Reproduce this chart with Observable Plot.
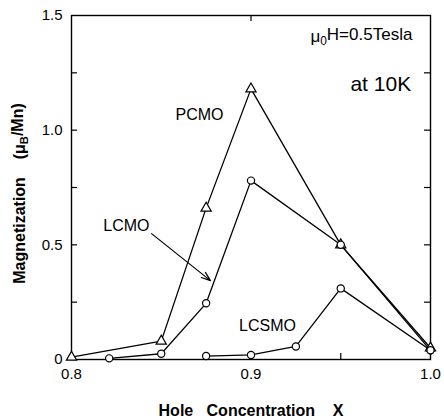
<!DOCTYPE html>
<html><head><meta charset="utf-8">
<script src="https://cdn.jsdelivr.net/npm/d3@7"></script>
<script src="https://cdn.jsdelivr.net/npm/@observablehq/plot@0.6"></script>
<style>
body{margin:0;background:#fff;}
</style></head><body><div id="chart"></div>
<script>
// Series (hole concentration X, magnetization in μB/Mn)
const pcmoX  = [0.8, 0.85, 0.875, 0.9, 0.95, 1.0];
const pcmoY  = [0.01, 0.08, 0.66, 1.18, 0.50, 0.05];
const lcmoX  = [0.821, 0.85, 0.875, 0.9, 0.95, 1.0];
const lcmoY  = [0.005, 0.025, 0.245, 0.78, 0.50, 0.04];
const lcsmoX = [0.875, 0.9, 0.925, 0.95, 1.0];
const lcsmoY = [0.015, 0.02, 0.057, 0.31, 0.04];

// Tick values / labels
const xTickVals = [0.8, 0.9, 1.0];
const xTickLabels = ["0.8", "0.9", "1.0"];
const yTickVals = [0, 0.5, 1.0, 1.5];
const yTickLabels = ["0", "0.5", "1.0", "1.5"];
const yMinor = [0.25, 0.5, 0.75, 1.0, 1.25];
const xInnerBottom = [0.9, 0.95];
const xInnerTop = [0.9];

// Annotations
const seriesLabels = ["PCMO", "LCMO", "LCSMO"];
const seriesLabelX = [0.8713, 0.8306, 0.9092];
const seriesLabelY = [1.068, 0.584, 0.148];
const noteText = ["μ_0H=0.5Tesla"];
const noteX = [0.9331]; const noteY = [1.41];
const note2Text = ["at 10K"];
const note2X = [0.9554]; const note2Y = [1.199];
const arrowFrom = [0.8446, 0.549];
const arrowTo = [0.8774, 0.344];
const xLabel = "Hole\u00a0\u00a0\u00a0Concentration\u00a0\u00a0\u00a0\u00a0X";
const yLabel = "Magnetization\u00a0\u00a0\u00a0\u00a0(μ_B/Mn)";

const toRows = (xs, ys) => xs.map((x, i) => ({x, y: ys[i]}));
const pcmo = toRows(pcmoX, pcmoY);
const lcmo = toRows(lcmoX, lcmoY);
const lcsmo = toRows(lcsmoX, lcsmoY);
const labelRows = seriesLabels.map((t, i) => ({t, x: seriesLabelX[i], y: seriesLabelY[i]}));

const font = "Liberation Sans, Arial, Helvetica, sans-serif";
const W = 444, H = 419, mT = 15, mB = 60, mL = 71, mR = 14;
const innerW = W - mL - mR, innerH = H - mT - mB, tk = 6;

const chart = Plot.plot({
  width: W,
  height: H,
  marginTop: mT,
  marginBottom: mB,
  marginLeft: mL,
  marginRight: mR,
  style: {fontFamily: font, color: "#000", background: "#fff"},
  x: {domain: [0.8, 1.0]},
  y: {domain: [0, 1.5]},
  marks: [
    Plot.frame({stroke: "#000", strokeWidth: 1.4}),
    Plot.axisX({ticks: xTickVals, tickSize: 0, tickPadding: 9, fontSize: 15,
      tickFormat: d => xTickLabels[xTickVals.indexOf(d)], label: xLabel, labelAnchor: "center",
      labelArrow: "none", labelOffset: 56}),
    Plot.axisY({ticks: yTickVals, tickSize: 0, tickPadding: 9, fontSize: 15,
      tickFormat: d => yTickLabels[yTickVals.indexOf(d)], label: yLabel, labelAnchor: "center",
      labelArrow: "none", labelOffset: 58}),
    Plot.tickY(yMinor, {y: d => d, insetRight: innerW - tk, stroke: "#000", strokeWidth: 1.2}),
    Plot.tickY(yMinor, {y: d => d, insetLeft: innerW - tk, stroke: "#000", strokeWidth: 1.2}),
    Plot.tickX(xInnerBottom, {x: d => d, insetTop: innerH - tk, stroke: "#000", strokeWidth: 1.2}),
    Plot.tickX(xInnerTop, {x: d => d, insetBottom: innerH - tk, stroke: "#000", strokeWidth: 1.2}),
    Plot.line(pcmo, {x: "x", y: "y", stroke: "#000", strokeWidth: 1.3}),
    Plot.line(lcmo, {x: "x", y: "y", stroke: "#000", strokeWidth: 1.3}),
    Plot.line(lcsmo, {x: "x", y: "y", stroke: "#000", strokeWidth: 1.3}),
    Plot.dot(pcmo, {x: "x", y: "y", symbol: "triangle", r: 3.8, stroke: "#000", fill: "#fff", strokeWidth: 1.2}),
    Plot.dot(lcmo, {x: "x", y: "y", symbol: "circle", r: 3.6, stroke: "#000", fill: "#fff", strokeWidth: 1.2}),
    Plot.dot(lcsmo, {x: "x", y: "y", symbol: "circle", r: 3.6, stroke: "#000", fill: "#fff", strokeWidth: 1.2}),
    Plot.text(labelRows, {x: "x", y: "y", text: "t", fontSize: 16, fill: "#000"}),
    Plot.text(noteText, {x: noteX, y: noteY, text: d => d, textAnchor: "start", fontSize: 17, fill: "#000"}),
    Plot.text(note2Text, {x: note2X, y: note2Y, text: d => d, textAnchor: "start", fontSize: 21, fill: "#000"}),
    Plot.arrow([0], {x1: () => arrowFrom[0], y1: () => arrowFrom[1], x2: () => arrowTo[0], y2: () => arrowTo[1],
      stroke: "#000", strokeWidth: 1.2, headLength: 12, headAngle: 40})
  ]
});
document.getElementById("chart").appendChild(chart);

// axis title styling + subscripts written as _x
d3.select(chart).selectAll("text").each(function() {
  const el = this;
  if (el.childElementCount !== 0) return;
  let s = el.textContent.replace(/[←↑→↓]/g, "").trim();
  if (s !== el.textContent) el.textContent = s;
  if (s === xLabel || s === yLabel) {
    el.setAttribute("font-weight", "bold");
    el.setAttribute("font-size", "16");
  }
  if (s === yLabel) {
    const t = el.getAttribute("transform") || "";
    el.setAttribute("transform", t + " translate(-6,0)");
  }
  const i = s.indexOf("_");
  if (i >= 0) {
    const before = s.slice(0, i), sub = s[i + 1], after = s.slice(i + 2);
    el.textContent = "";
    const sel = d3.select(el);
    sel.append("tspan").text(before);
    sel.append("tspan").attr("font-size", "0.7em").attr("dy", "0.3em").text(sub);
    sel.append("tspan").attr("dy", "-0.3em").text(after);
  }
});
</script></body></html>
